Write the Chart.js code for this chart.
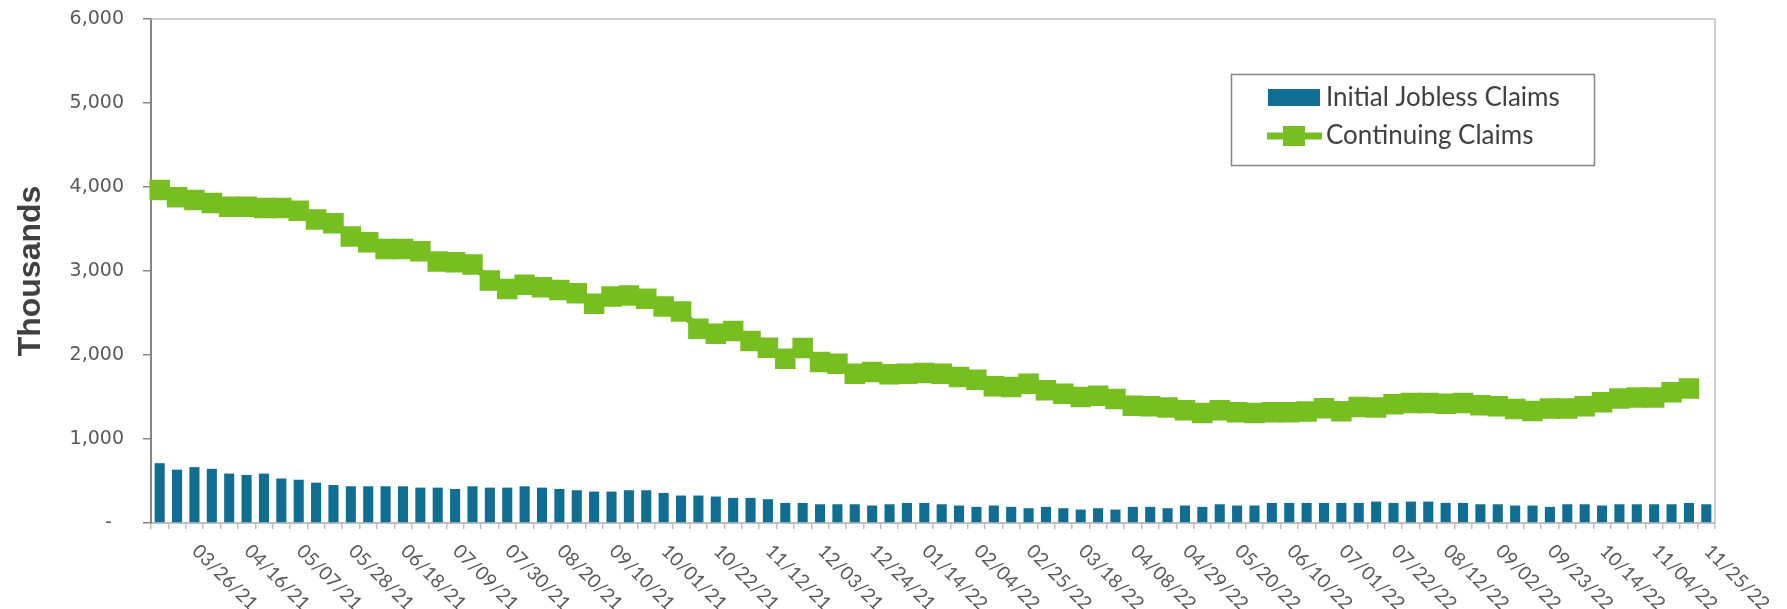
<!DOCTYPE html>
<html><head><meta charset="utf-8">
<script src="https://cdn.jsdelivr.net/npm/chart.js@4"></script>
<style>html,body{margin:0;padding:0;background:#fff;} #wrap{width:1787px;height:609px;position:relative;}</style>
</head><body><div id="wrap"><canvas id="c"></canvas></div>
<script>
const categories = [
 '03/12/21','03/19/21','03/26/21','04/02/21','04/09/21','04/16/21','04/23/21','04/30/21','05/07/21','05/14/21',
 '05/21/21','05/28/21','06/04/21','06/11/21','06/18/21','06/25/21','07/02/21','07/09/21','07/16/21','07/23/21',
 '07/30/21','08/06/21','08/13/21','08/20/21','08/27/21','09/03/21','09/10/21','09/17/21','09/24/21','10/01/21',
 '10/08/21','10/15/21','10/22/21','10/29/21','11/05/21','11/12/21','11/19/21','11/26/21','12/03/21','12/10/21',
 '12/17/21','12/24/21','12/31/21','01/07/22','01/14/22','01/21/22','01/28/22','02/04/22','02/11/22','02/18/22',
 '02/25/22','03/04/22','03/11/22','03/18/22','03/25/22','04/01/22','04/08/22','04/15/22','04/22/22','04/29/22',
 '05/06/22','05/13/22','05/20/22','05/27/22','06/03/22','06/10/22','06/17/22','06/24/22','07/01/22','07/08/22',
 '07/15/22','07/22/22','07/29/22','08/05/22','08/12/22','08/19/22','08/26/22','09/02/22','09/09/22','09/16/22',
 '09/23/22','09/30/22','10/07/22','10/14/22','10/21/22','10/28/22','11/04/22','11/11/22','11/18/22','11/25/22'
];
const tickLabels = [
 '03/26/21','04/16/21','05/07/21','05/28/21','06/18/21','07/09/21','07/30/21','08/20/21','09/10/21','10/01/21',
 '10/22/21','11/12/21','12/03/21','12/24/21','01/14/22','02/04/22','02/25/22','03/18/22','04/08/22','04/29/22',
 '05/20/22','06/10/22','07/01/22','07/22/22','08/12/22','09/02/22','09/23/22','10/14/22','11/04/22','11/25/22'
];
const initialClaims = [
 712,635,665,645,588,572,588,530,515,480,
 452,437,437,437,437,421,421,405,437,421,
 421,437,421,405,390,374,374,390,390,358,
 327,327,315,299,299,283,239,239,223,223,
 223,208,223,239,239,223,208,192,208,192,
 176,192,176,160,176,160,192,192,176,208,
 192,223,208,208,239,239,239,239,239,239,
 255,239,255,255,239,239,223,223,208,208,
 192,223,223,208,223,223,223,223,239,223
];
const continuingClaims = [
 3963,3877,3845,3810,3766,3766,3750,3750,3718,3612,
 3568,3410,3342,3263,3263,3235,3113,3105,3077,2887,
 2787,2835,2807,2775,2736,2609,2697,2709,2669,2578,
 2519,2312,2253,2285,2166,2086,1956,2083,1916,1896,
 1777,1797,1770,1777,1785,1777,1738,1706,1627,1619,
 1659,1580,1540,1500,1516,1477,1397,1390,1374,1342,
 1310,1342,1318,1310,1318,1318,1326,1366,1330,1382,
 1374,1414,1429,1429,1421,1429,1402,1390,1358,1334,
 1362,1362,1390,1437,1481,1493,1493,1556,1600,null
];
const seriesNames = ['Initial Jobless Claims','Continuing Claims'];
const BLUE = '#0F6E91';
const GREEN = '#77BE20';

const framePlugin = {
  id:'frame',
  beforeDatasetsDraw(chart){
    const {ctx, chartArea:a} = chart;
    ctx.save();
    ctx.strokeStyle = '#BFBFBF'; ctx.lineWidth = 1.5;
    ctx.beginPath();
    ctx.moveTo(a.left, a.top); ctx.lineTo(a.right, a.top); ctx.lineTo(a.right, a.bottom);
    ctx.stroke();
    ctx.restore();
  }
};
const xLabelPlugin = {
  id:'xlabels',
  afterDraw(chart){
    const {ctx} = chart; const xs = chart.scales.x;
    ctx.save();
    ctx.font = '19px Lato'; ctx.fillStyle = '#595959';
    ctx.textAlign = 'left'; ctx.textBaseline = 'middle';
    categories.forEach((c,i)=>{
      if (!tickLabels.includes(c)) return;
      const x = xs.getPixelForValue(i);
      ctx.save(); ctx.translate(x + 1, xs.top + 25); ctx.rotate(Math.PI/4);
      ctx.fillText(c, 0, 0); ctx.restore();
    });
    ctx.restore();
  }
};
const legendPlugin = {
  id:'customLegend',
  afterDraw(chart){
    const {ctx} = chart;
    ctx.save();
    ctx.strokeStyle = '#868686'; ctx.lineWidth = 1.5;
    ctx.strokeRect(1231.5, 74.5, 363, 91);
    ctx.fillStyle = BLUE; ctx.fillRect(1268, 89, 52, 17);
    ctx.strokeStyle = GREEN; ctx.lineWidth = 7;
    ctx.beginPath(); ctx.moveTo(1267, 136); ctx.lineTo(1322, 136); ctx.stroke();
    ctx.fillStyle = GREEN; ctx.fillRect(1283, 126, 22, 20);
    ctx.font = '26px Lato'; ctx.fillStyle = '#404040'; ctx.textBaseline = 'middle'; ctx.textAlign='left';
    ctx.fillText(seriesNames[0], 1326, 98);
    ctx.fillText(seriesNames[1], 1326, 136);
    ctx.restore();
  }
};

new Chart(document.getElementById('c'), {
  data: {
    labels: categories,
    datasets: [
      {type:'line', label: seriesNames[1], data: continuingClaims, borderColor: GREEN, backgroundColor: GREEN,
       borderWidth: 7, pointStyle:'rect', pointRadius: 14.5, pointHoverRadius: 14.5, pointBorderWidth: 0,
       pointBackgroundColor: GREEN, tension: 0, order: 0},
      {type:'bar', label: seriesNames[0], data: initialClaims, backgroundColor: BLUE,
       barPercentage: 0.58, categoryPercentage: 1, order: 1}
    ]
  },
  options: {
    responsive: true, maintainAspectRatio: false, animation: false, devicePixelRatio: 1,
    layout: {padding: {left: 0, right: 72, top: 19, bottom: 0}},
    plugins: {legend: {display: false}, tooltip: {enabled: false}},
    scales: {
      x: {
        type: 'category', offset: true,
        grid: {offset: true, drawOnChartArea: false, drawTicks: true, tickLength: 6, color: '#BFBFBF', lineWidth: 1.5},
        border: {color: '#BFBFBF', width: 2},
        ticks: {display: false, autoSkip: false},
        afterFit(s){ s.height = 86; s.paddingLeft = 0; s.paddingRight = 0; }
      },
      y: {
        min: 0, max: 6000,
        ticks: {stepSize: 1000, color: '#595959', padding: 19, font: {family: 'DejaVu Sans', size: 19},
          callback: v => v === 0 ? '-\u2007' : v.toLocaleString('en-US')},
        grid: {drawOnChartArea: false, drawTicks: true, tickLength: 8, color: '#868686', lineWidth: 1.5},
        border: {color: '#868686', width: 2},
        title: {display: true, text: 'Thousands', color: '#404040', padding: {top: 12, bottom: 0},
          font: {family: 'Liberation Sans', size: 32, weight: 'bold'}},
        afterFit(s){ s.width = 151; s.paddingTop = 0; s.paddingBottom = 0; }
      }
    }
  },
  plugins: [framePlugin, xLabelPlugin, legendPlugin]
});
</script>
</body></html>
